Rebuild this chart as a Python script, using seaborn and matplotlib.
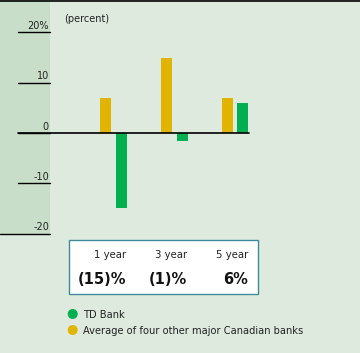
import matplotlib
matplotlib.use("Agg")
import matplotlib.pyplot as plt
import seaborn as sns
import pandas as pd
from matplotlib.patches import Rectangle

# ---- data ----
periods = ["1 year", "3 year", "5 year"]
td_bank = [-15, -1.5, 6]
peer_avg = [7, 15, 7]
table_values = ["(15)%", "(1)%", "6%"]
series_names = ["Average of four other major Canadian banks", "TD Bank"]
tick_values = [20, 10, 0, -10, -20]
tick_labels = ["20%", "10", "0", "-10", "-20"]

df = pd.DataFrame({
    "period": periods * 2,
    "value": peer_avg + td_bank,
    "series": [series_names[0]] * 3 + [series_names[1]] * 3,
})

BG = "#ddeadd"
STRIP = "#c9dec9"
GREEN = "#00b050"
YELLOW = "#e0b400"
BORDER = "#3f8a96"
TXT = "#222222"

W, H = 360, 353
sns.set_theme(style="white")
plt.rcParams["font.family"] = ["DejaVu Sans"]

fig = plt.figure(figsize=(W / 100, H / 100), dpi=100, facecolor=BG)
ax = fig.add_axes([0, 0, 1, 1])

sns.barplot(data=df, x="period", y="value", hue="series", order=periods,
            hue_order=series_names, palette=[YELLOW, GREEN], width=0.525,
            gap=0.3125, legend=False, ax=ax, saturation=1, zorder=3,
            edgecolor="none", linewidth=0)

# pixel mapping
x0px, xunit = 113.5, 60.75
y0px, yunit = 133.0, 5.03
ax.set_xlim(-x0px / xunit, (W - x0px) / xunit)
ax.set_ylim((y0px - H) / yunit, y0px / yunit)
ax.axis("off")

def fx(px):
    return px / W

def fy(py):
    return 1 - py / H

TA = ax.transAxes
# left strip
ax.add_patch(Rectangle((0, fy(234.3)), fx(50), 1 - fy(234.3), transform=TA,
                       facecolor=STRIP, edgecolor="none", zorder=0.5))
# top line
ax.plot([0, 1], [fy(0.5), fy(0.5)], transform=TA, color="black", lw=1.2, clip_on=False, zorder=5)

# y ticks
tr = ax.get_yaxis_transform()
for v, lab in zip(tick_values, tick_labels):
    xstart = 0 if v == -20 else fx(18)
    ax.plot([xstart, fx(50)], [v, v], transform=tr, color="black", lw=1.0, clip_on=False, zorder=4)
    ax.text(fx(49), v + 6.5 / yunit, lab, transform=tr, ha="right", va="center",
            fontsize=7.0, color=TXT, zorder=5)
# zero line
ax.plot([fx(18), fx(249)], [0, 0], transform=tr, color="black", lw=1.2, zorder=4)

ax.text(fx(64), fy(19), "(percent)", transform=TA, ha="left", va="center", fontsize=7.0, color=TXT)

# table box
ax.add_patch(Rectangle((fx(69), fy(294)), fx(258) - fx(69), fy(240) - fy(294),
                       transform=TA, facecolor="white", edgecolor=BORDER, lw=1.0, zorder=2))
for i, (p, val) in enumerate(zip(periods, table_values)):
    xr = ax.transData.transform((i + 0.215, 0))[0] / W
    ax.text(xr, fy(258), p, transform=TA, ha="right", va="baseline", fontsize=7.3, color=TXT, zorder=5)
    ax.text(xr, fy(283.5), val, transform=TA, ha="right", va="baseline", fontsize=10.5,
            fontweight="bold", color="#111111", zorder=5)

# legend
for yy, col, name in [(314, GREEN, series_names[1]), (330, YELLOW, series_names[0])]:
    ax.scatter([fx(72.7)], [fy(yy)], transform=TA, s=52, color=col, edgecolors="none", zorder=5,
               clip_on=False)
    ax.text(fx(83.3), fy(yy + 3.5), name, transform=TA, ha="left", va="baseline",
            fontsize=7.1, color=TXT, zorder=5)

fig.savefig("out.png", dpi=100, facecolor=BG)
